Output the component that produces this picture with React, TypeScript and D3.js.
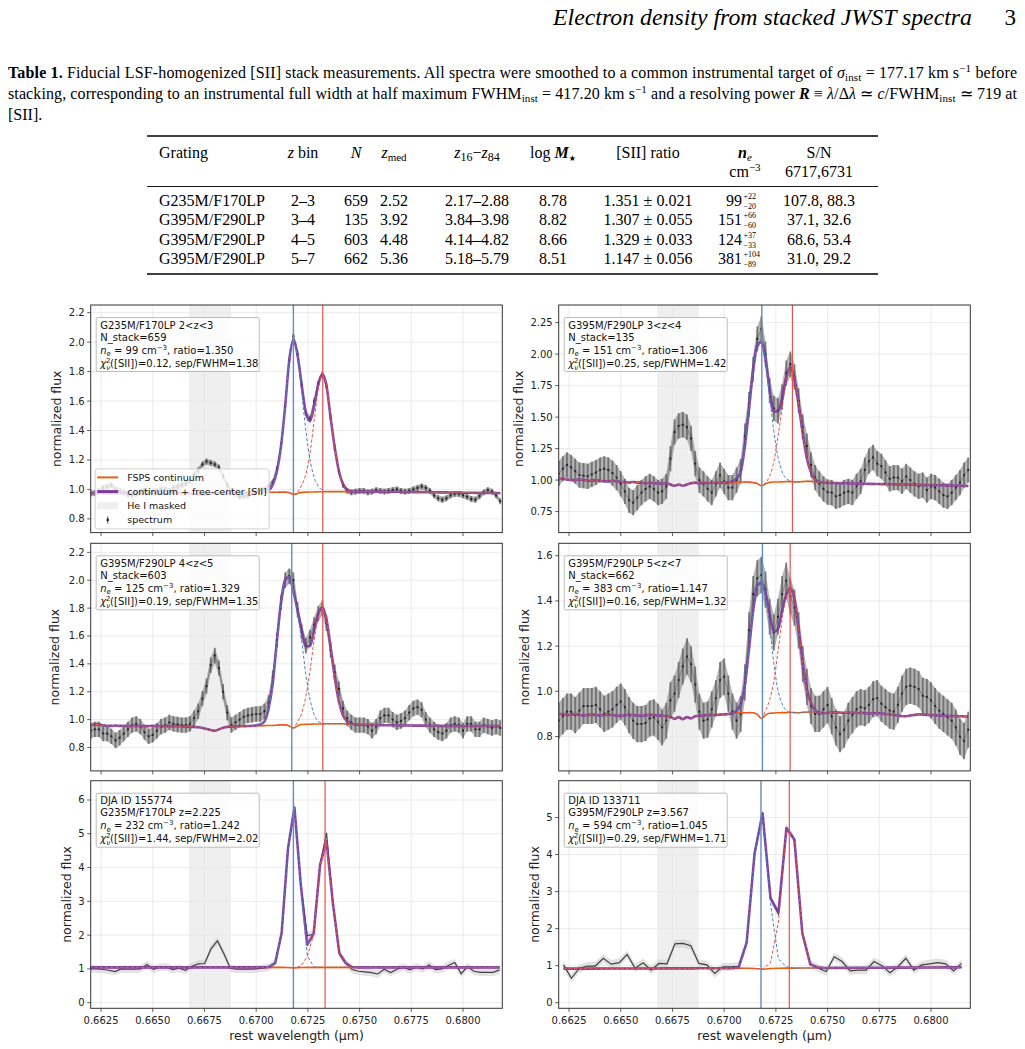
import React from "react";
import * as d3 from "d3";

const W = 1025;
const H = 1049;
const SANS = "DejaVu Sans, Verdana, sans-serif";
const SERIF = "Liberation Serif, Times New Roman, serif";

// ---------------- page text ----------------
const HEADER_TITLE = "Electron density from stacked JWST spectra";
const PAGE_NO = "3";
const LEGEND_LABELS = ["FSPS continuum", "continuum + free-center [SII]", "He I masked", "spectrum"];

// ---------------- table ----------------
const TABLE_GRATING = ["G235M/F170LP", "G395M/F290LP", "G395M/F290LP", "G395M/F290LP"];
const TABLE_ZBIN = ["2–3", "3–4", "4–5", "5–7"];
const TABLE_N = ["659", "135", "603", "662"];
const TABLE_ZMED = ["2.52", "3.92", "4.48", "5.36"];
const TABLE_ZRANGE = ["2.17–2.88", "3.84–3.98", "4.14–4.82", "5.18–5.79"];
const TABLE_LOGM = ["8.78", "8.82", "8.66", "8.51"];
const TABLE_RATIO = ["1.351 ± 0.021", "1.307 ± 0.055", "1.329 ± 0.033", "1.147 ± 0.056"];
const TABLE_NE = ["99", "151", "124", "381"];
const TABLE_NE_UP = ["+22", "+66", "+37", "+104"];
const TABLE_NE_LO = ["−20", "−60", "−33", "−89"];
const TABLE_SN = ["107.8, 88.3", "37.1, 32.6", "68.6, 53.4", "31.0, 29.2"];

// ---------------- shared axis ----------------
const X_DOMAIN = [0.662, 0.6819];
const X_TICKS = [0.6625, 0.665, 0.6675, 0.67, 0.6725, 0.675, 0.6775, 0.68];
const HEI_MASK = [0.66675, 0.66878];

// stacked spectra sampling grid (rest micron)
const STACK_START = 0.662;
const STACK_STEP = 0.0002;
const STACK_WIN = 40; // grid index where component arrays start

// ---------------- panel 1: G235M 2<z<3 ----------------
const P1_FLUX = [
  0.974, 0.975, 0.99, 1.01, 1.02, 1.03, 1.0, 0.99, 0.98, 0.965,
  0.96, 0.97, 0.98, 0.99, 0.98, 0.985, 0.99, 1.0, 1.0, 0.99,
  1.01, 1.02, 1.03, 1.04, 1.06, 1.1, 1.13, 1.17, 1.19, 1.18,
  1.17, 1.15, 1.09, 1.03, 0.99, 0.97, 0.95, 0.955, 0.96, 0.98,
  0.99, 0.995, 1.0, 1.02, 1.05, 1.14, 1.3, 1.57, 1.88, 2.04,
  1.92, 1.71, 1.52, 1.48, 1.6, 1.72, 1.78, 1.7, 1.49, 1.28,
  1.12, 1.03, 0.99, 0.98, 0.985, 0.99, 0.99, 0.98, 0.985, 0.995,
  0.99, 0.985, 0.99, 0.995, 1.0, 0.99, 0.985, 0.99, 1.0, 1.01,
  1.02, 1.01, 0.99, 0.96, 0.94, 0.93, 0.94, 0.96, 0.97, 0.97,
  0.96, 0.95, 0.935, 0.93, 0.955, 0.98, 0.995, 0.985, 0.96, 0.92,
];
const P1_CONT = [
  0.975, 0.975, 0.975, 0.975, 0.975, 0.975, 0.975, 0.975, 0.975, 0.975,
  0.975, 0.975, 0.975, 0.975, 0.975, 0.975, 0.975, 0.975, 0.975, 0.975,
  0.975, 0.975, 0.975, 0.973, 0.972, 0.97, 0.968, 0.968, 0.97, 0.972,
  0.975, 0.977, 0.978, 0.978, 0.978, 0.978, 0.978, 0.978, 0.979, 0.98,
  0.98, 0.98, 0.98, 0.98, 0.981, 0.981, 0.982, 0.982, 0.978, 0.966,
  0.972, 0.98, 0.982, 0.983, 0.983, 0.984, 0.984, 0.985, 0.985, 0.985,
  0.985, 0.985, 0.985, 0.985, 0.985, 0.985, 0.985, 0.985, 0.985, 0.985,
  0.985, 0.985, 0.984, 0.984, 0.984, 0.983, 0.983, 0.983, 0.982, 0.982,
  0.982, 0.981, 0.981, 0.981, 0.98, 0.98, 0.98, 0.979, 0.979, 0.979,
  0.978, 0.978, 0.978, 0.977, 0.977, 0.977, 0.976, 0.976, 0.975, 0.975,
];
const P1_BLUE = [0, 0, 0.005, 0.015, 0.05, 0.14, 0.31, 0.58, 0.9, 1.05, 0.93, 0.68, 0.42, 0.22, 0.1, 0.04, 0.01, 0, 0, 0, 0, 0, 0, 0, 0];
const P1_RED = [0, 0, 0, 0, 0, 0, 0, 0, 0, 0, 0.01, 0.05, 0.12, 0.26, 0.48, 0.69, 0.79, 0.72, 0.5, 0.3, 0.14, 0.05, 0.015, 0, 0];
const P1_ERR = 0.02;
const P1_YLIM = [0.707, 2.252];
const P1_YTICKS = [0.8, 1.0, 1.2, 1.4, 1.6, 1.8, 2.0, 2.2];
const P1_VLINES = [0.6718, 0.67322];
const P1_INFO = ["G235M/F170LP 2<z<3", "N_stack=659", "99", "1.350", "0.12", "1.38"];

// ---------------- panel 2: G395M 3<z<4 ----------------
const P2_FLUX = [
  1.05, 1.09, 1.12, 1.1, 1.07, 1.04, 1.035, 1.03, 1.045, 1.06,
  1.08, 1.09, 1.08, 1.055, 1.02, 0.97, 0.91, 0.84, 0.82, 0.86,
  0.9, 0.93, 0.95, 0.93, 0.9, 0.91, 0.95, 1.17, 1.38, 1.43,
  1.44, 1.42, 1.33, 1.13, 1.0, 0.97, 0.93, 0.9, 0.97, 1.04,
  0.99, 0.94, 0.94, 1.0, 1.07, 1.35, 1.6, 1.88, 2.12, 2.2,
  2.0, 1.71, 1.57, 1.55, 1.66, 1.85, 1.92, 1.82, 1.63, 1.42,
  1.27, 1.12, 1.02, 0.97, 0.93, 0.905, 0.9, 0.87, 0.88, 0.9,
  0.91, 0.9, 0.95, 0.99, 1.08, 1.15, 1.18, 1.13, 1.11, 1.06,
  1.01, 1.02, 1.02, 0.99, 1.03, 1.0, 0.97, 0.95, 0.96, 0.92,
  0.95, 0.94, 0.91, 0.88, 0.87, 0.9, 0.94, 0.98, 1.04, 1.08,
];
const P2_CONT = [
  1.01, 1.01, 1.005, 1.0, 1.0, 1.005, 1.0, 0.995, 0.995, 1.0,
  0.995, 0.99, 0.99, 0.995, 0.99, 0.985, 0.985, 0.98, 0.985, 0.98,
  0.98, 0.975, 0.98, 0.975, 0.975, 0.97, 0.975, 0.965, 0.955, 0.965,
  0.955, 0.965, 0.975, 0.98, 0.975, 0.98, 0.975, 0.98, 0.978, 0.98,
  0.98, 0.982, 0.98, 0.982, 0.985, 0.985, 0.984, 0.98, 0.972, 0.955,
  0.97, 0.982, 0.985, 0.985, 0.986, 0.988, 0.988, 0.986, 0.985, 0.988,
  0.99, 0.99, 0.985, 0.982, 0.98, 0.978, 0.977, 0.976, 0.975, 0.975,
  0.974, 0.973, 0.972, 0.972, 0.971, 0.97, 0.97, 0.969, 0.968, 0.968,
  0.967, 0.966, 0.966, 0.965, 0.964, 0.964, 0.963, 0.962, 0.962, 0.961,
  0.96, 0.96, 0.959, 0.958, 0.957, 0.956, 0.955, 0.955, 0.954, 0.953,
];
const P2_BLUE = [0, 0, 0.01, 0.03, 0.08, 0.28, 0.58, 0.9, 1.1, 1.14, 0.98, 0.68, 0.4, 0.2, 0.08, 0.025, 0.005, 0, 0, 0, 0, 0, 0, 0, 0];
const P2_RED = [0, 0, 0, 0, 0, 0, 0, 0, 0, 0, 0.01, 0.05, 0.16, 0.36, 0.58, 0.8, 0.9, 0.82, 0.62, 0.38, 0.18, 0.07, 0.02, 0.005, 0];
const P2_ERR = 0.1;
const P2_YLIM = [0.583, 2.39];
const P2_YTICKS = [0.75, 1.0, 1.25, 1.5, 1.75, 2.0, 2.25];
const P2_VLINES = [0.67182, 0.6733];
const P2_INFO = ["G395M/F290LP 3<z<4", "N_stack=135", "151", "1.306", "0.25", "1.42"];

// ---------------- panel 3: G395M 4<z<5 ----------------
const P3_FLUX = [
  0.92, 0.93, 0.93, 0.9, 0.9, 0.88, 0.85, 0.87, 0.9, 0.93,
  0.96, 0.97, 0.95, 0.91, 0.88, 0.89, 0.92, 0.95, 0.96, 0.98,
  0.97, 0.965, 0.96, 0.96, 0.97, 1.01, 1.06, 1.15, 1.24, 1.39,
  1.46, 1.37, 1.2, 1.05, 0.96, 0.98, 1.0, 1.02, 1.03, 1.035,
  1.04, 1.04, 1.06, 1.12, 1.3, 1.57, 1.84, 2.0, 2.03, 2.0,
  1.79, 1.63, 1.53, 1.59, 1.68, 1.76, 1.8, 1.69, 1.5, 1.34,
  1.22, 1.08, 1.01, 0.98, 0.96, 0.96, 0.96, 0.95, 0.92, 0.95,
  1.01, 1.03, 1.03, 1.0, 0.98, 0.99, 1.01, 1.05, 1.08, 1.09,
  1.07, 1.0, 0.96, 0.93, 0.91, 0.9, 0.92, 0.96, 0.97, 0.96,
  0.92, 0.97, 0.97, 0.93, 0.93, 0.96, 0.95, 0.94, 0.95, 0.94,
];
const P3_CONT = [
  0.96, 0.965, 0.965, 0.96, 0.955, 0.955, 0.958, 0.955, 0.955, 0.953,
  0.955, 0.955, 0.953, 0.952, 0.953, 0.955, 0.955, 0.953, 0.952, 0.953,
  0.953, 0.953, 0.952, 0.951, 0.95, 0.948, 0.945, 0.94, 0.932, 0.925,
  0.92, 0.93, 0.942, 0.948, 0.95, 0.952, 0.952, 0.953, 0.954, 0.955,
  0.955, 0.956, 0.957, 0.958, 0.958, 0.96, 0.962, 0.962, 0.955, 0.94,
  0.955, 0.965, 0.966, 0.967, 0.968, 0.968, 0.969, 0.97, 0.97, 0.97,
  0.97, 0.97, 0.968, 0.966, 0.965, 0.964, 0.963, 0.962, 0.962, 0.961,
  0.96, 0.96, 0.96, 0.96, 0.959, 0.958, 0.958, 0.958, 0.957, 0.957,
  0.957, 0.956, 0.956, 0.956, 0.955, 0.955, 0.955, 0.955, 0.955, 0.954,
  0.954, 0.955, 0.955, 0.954, 0.954, 0.955, 0.955, 0.954, 0.954, 0.953,
];
const P3_BLUE = [0.005, 0.01, 0.03, 0.12, 0.3, 0.6, 0.88, 1.04, 1.07, 0.98, 0.8, 0.6, 0.36, 0.18, 0.07, 0.02, 0.005, 0, 0, 0, 0, 0, 0, 0, 0];
const P3_RED = [0, 0, 0, 0, 0, 0, 0, 0, 0, 0, 0.03, 0.08, 0.2, 0.38, 0.6, 0.77, 0.83, 0.75, 0.55, 0.33, 0.16, 0.06, 0.02, 0.005, 0];
const P3_ERR = 0.055;
const P3_YLIM = [0.632, 2.265];
const P3_YTICKS = [0.8, 1.0, 1.2, 1.4, 1.6, 1.8, 2.0, 2.2];
const P3_VLINES = [0.67172, 0.67322];
const P3_INFO = ["G395M/F290LP 4<z<5", "N_stack=603", "125", "1.329", "0.19", "1.35"];

// ---------------- panel 4: G395M 5<z<7 ----------------
const P4_FLUX = [
  0.87, 0.89, 0.91, 0.91, 0.895, 0.915, 0.935, 0.935, 0.935, 0.94,
  0.92, 0.9, 0.91, 0.92, 0.94, 0.955, 0.93, 0.895, 0.87, 0.855,
  0.855, 0.86, 0.88, 0.885, 0.865, 0.84, 0.87, 0.96, 0.99, 1.05,
  1.11, 1.155, 1.12, 1.03, 0.91, 0.87, 0.875, 0.92, 0.97, 1.05,
  1.065, 0.99, 0.91, 0.87, 0.9, 1.04, 1.27, 1.43, 1.5, 1.515,
  1.45, 1.33, 1.26, 1.33, 1.43, 1.49, 1.42, 1.37, 1.27, 1.12,
  1.02, 0.935, 0.9, 0.9, 0.92, 0.94, 0.89, 0.84, 0.81, 0.83,
  0.87, 0.895, 0.92, 0.93, 0.925, 0.94, 0.965, 0.97, 0.945, 0.93,
  0.915, 0.91, 0.94, 0.99, 1.02, 1.025, 1.02, 1.01, 0.98, 0.975,
  0.96, 0.935, 0.915, 0.9, 0.885, 0.87, 0.84, 0.8, 0.78, 0.83,
];
const P4_CONT = [
  0.9, 0.9, 0.895, 0.897, 0.9, 0.895, 0.893, 0.895, 0.897, 0.895,
  0.893, 0.895, 0.897, 0.895, 0.893, 0.892, 0.894, 0.896, 0.895, 0.893,
  0.892, 0.894, 0.896, 0.895, 0.893, 0.892, 0.89, 0.888, 0.878, 0.886,
  0.877, 0.886, 0.88, 0.89, 0.892, 0.893, 0.895, 0.895, 0.896, 0.897,
  0.898, 0.9, 0.902, 0.904, 0.905, 0.905, 0.906, 0.905, 0.898, 0.88,
  0.895, 0.903, 0.904, 0.905, 0.906, 0.906, 0.907, 0.906, 0.905, 0.907,
  0.908, 0.909, 0.908, 0.905, 0.903, 0.904, 0.906, 0.907, 0.906, 0.905,
  0.906, 0.905, 0.904, 0.905, 0.903, 0.902, 0.903, 0.904, 0.902, 0.9,
  0.898, 0.896, 0.893, 0.89, 0.89, 0.893, 0.896, 0.898, 0.897, 0.896,
  0.895, 0.894, 0.893, 0.892, 0.892, 0.891, 0.89, 0.89, 0.889, 0.889,
];
const P4_BLUE = [0, 0, 0, 0.01, 0.04, 0.12, 0.28, 0.45, 0.57, 0.6, 0.52, 0.38, 0.22, 0.1, 0.04, 0.01, 0, 0, 0, 0, 0, 0, 0, 0, 0];
const P4_RED = [0, 0, 0, 0, 0, 0, 0, 0, 0, 0, 0.02, 0.06, 0.14, 0.27, 0.41, 0.51, 0.55, 0.5, 0.37, 0.22, 0.1, 0.04, 0.01, 0, 0];
const P4_ERR = 0.08;
const P4_YLIM = [0.648, 1.655];
const P4_YTICKS = [0.8, 1.0, 1.2, 1.4, 1.6];
const P4_VLINES = [0.67185, 0.67319];
const P4_INFO = ["G395M/F290LP 5<z<7", "N_stack=662", "383", "1.147", "0.16", "1.32"];

// ---------------- panel 5: DJA 155774 ----------------
const P5_START = 0.66193;
const P5_STEP = 0.00031;
const P5_WIN = 28;
const P5_FLUX = [
  1.0, 1.0, 0.99, 0.96, 0.92, 1.0, 0.99, 0.99, 1.0, 1.13,
  0.99, 1.05, 1.06, 0.98, 1.02, 0.96, 1.08, 1.15, 1.16, 1.6,
  1.83, 1.45, 1.02, 0.99, 0.99, 0.99, 1.0, 1.02, 1.05, 1.17,
  2.05, 4.57, 5.78, 3.48, 1.98, 2.03, 4.08, 5.03, 2.94, 1.46,
  1.17, 0.98, 0.93, 0.91, 0.89, 0.85, 0.99, 0.89, 0.99, 1.05,
  0.97, 1.06, 1.0, 1.12, 0.98, 1.0, 1.1, 1.19, 0.86, 1.07,
  0.93, 0.9, 0.9, 0.9, 0.97,
];
const P5_CONT = [
  1.045, 1.045, 1.045, 1.045, 1.045, 1.045, 1.045, 1.045, 1.045, 1.045,
  1.045, 1.045, 1.045, 1.045, 1.045, 1.045, 1.045, 1.045, 1.045, 1.045,
  1.045, 1.045, 1.045, 1.045, 1.045, 1.045, 1.045, 1.045, 1.045, 1.045,
  1.045, 1.04, 1.03, 1.04, 1.045, 1.045, 1.045, 1.045, 1.045, 1.045,
  1.045, 1.045, 1.045, 1.045, 1.045, 1.045, 1.045, 1.045, 1.045, 1.045,
  1.045, 1.045, 1.045, 1.045, 1.045, 1.045, 1.045, 1.045, 1.045, 1.045,
  1.045, 1.045, 1.045, 1.045, 1.045,
];
const P5_BLUE = [0.01, 0.13, 1.01, 3.53, 4.74, 2.4, 0.35, 0.02, 0, 0, 0, 0, 0, 0];
const P5_RED = [0, 0, 0, 0, 0.005, 0.04, 0.32, 0.97, 3.04, 3.73, 1.9, 0.42, 0.13, 0.01];
const P5_ERR = 0.11;
const P5_YLIM = [-0.166, 6.571];
const P5_YTICKS = [0, 1, 2, 3, 4, 5, 6];
const P5_VLINES = [0.6718, 0.67333];
const P5_INFO = ["DJA ID 155774", "G235M/F170LP z=2.225", "232", "1.242", "1.44", "2.02"];

// ---------------- panel 6: DJA 133711 ----------------
const P6_START = 0.66223;
const P6_STEP = 0.000385;
const P6_WIN = 21;
const P6_FLUX = [
  1.02, 0.66, 0.93, 0.99, 0.99, 1.2, 1.04, 1.08, 1.3, 0.93,
  1.08, 0.88, 1.06, 1.05, 1.59, 1.6, 1.54, 1.06, 1.02, 0.79,
  0.97, 0.97, 0.98, 1.62, 4.04, 5.12, 2.82, 2.4, 4.71, 4.4,
  1.87, 1.04, 0.93, 0.84, 1.24, 1.11, 0.86, 0.88, 0.88, 1.11,
  1.0, 0.81, 0.97, 1.2, 0.88, 1.02, 1.05, 1.08, 1.05, 0.86,
  1.06,
];
const P6_CONT = [
  0.92, 0.92, 0.92, 0.921, 0.921, 0.922, 0.922, 0.923, 0.923, 0.924,
  0.924, 0.925, 0.925, 0.926, 0.926, 0.927, 0.927, 0.928, 0.928, 0.929,
  0.929, 0.93, 0.93, 0.93, 0.925, 0.905, 0.925, 0.932, 0.933, 0.934,
  0.935, 0.936, 0.937, 0.938, 0.939, 0.94, 0.941, 0.942, 0.943, 0.944,
  0.945, 0.946, 0.947, 0.948, 0.949, 0.95, 0.951, 0.952, 0.953, 0.954,
  0.955,
];
const P6_BLUE = [0, 0.02, 0.69, 3.1, 4.2, 1.75, 0.25, 0.03, 0, 0, 0, 0, 0];
const P6_RED = [0, 0, 0, 0, 0.01, 0.15, 1.25, 3.75, 3.47, 0.94, 0.1, 0.01, 0];
const P6_ERR = 0.11;
const P6_YLIM = [-0.151, 5.992];
const P6_YTICKS = [0, 1, 2, 3, 4, 5];
const P6_VLINES = [0.67178, 0.67315];
const P6_INFO = ["DJA ID 133711", "G395M/F290LP z=3.567", "594", "1.045", "0.29", "1.71"];

// ---------------- layout ----------------
const COL_X = [90.7, 558.7];
const ROW_Y = [305, 543.3, 780.7];
const AX_W = 411.6;
const AX_H = 227.6;
const YLABEL_X = [56.7, 518.3, 55, 525, 66.7, 535];

const PANELS = [
  { stack: true, start: STACK_START, step: STACK_STEP, win: STACK_WIN, flux: P1_FLUX, cont: P1_CONT, blue: P1_BLUE, red: P1_RED, err: P1_ERR, ylim: P1_YLIM, yticks: P1_YTICKS, yfmt: ".1f", vlines: P1_VLINES, info: P1_INFO, legend: true },
  { stack: true, start: STACK_START, step: STACK_STEP, win: STACK_WIN, flux: P2_FLUX, cont: P2_CONT, blue: P2_BLUE, red: P2_RED, err: P2_ERR, ylim: P2_YLIM, yticks: P2_YTICKS, yfmt: ".2f", vlines: P2_VLINES, info: P2_INFO },
  { stack: true, start: STACK_START, step: STACK_STEP, win: STACK_WIN, flux: P3_FLUX, cont: P3_CONT, blue: P3_BLUE, red: P3_RED, err: P3_ERR, ylim: P3_YLIM, yticks: P3_YTICKS, yfmt: ".1f", vlines: P3_VLINES, info: P3_INFO },
  { stack: true, start: STACK_START, step: STACK_STEP, win: STACK_WIN, flux: P4_FLUX, cont: P4_CONT, blue: P4_BLUE, red: P4_RED, err: P4_ERR, ylim: P4_YLIM, yticks: P4_YTICKS, yfmt: ".1f", vlines: P4_VLINES, info: P4_INFO },
  { stack: false, start: P5_START, step: P5_STEP, win: P5_WIN, flux: P5_FLUX, cont: P5_CONT, blue: P5_BLUE, red: P5_RED, err: P5_ERR, ylim: P5_YLIM, yticks: P5_YTICKS, yfmt: "d", vlines: P5_VLINES, info: P5_INFO },
  { stack: false, start: P6_START, step: P6_STEP, win: P6_WIN, flux: P6_FLUX, cont: P6_CONT, blue: P6_BLUE, red: P6_RED, err: P6_ERR, ylim: P6_YLIM, yticks: P6_YTICKS, yfmt: "d", vlines: P6_VLINES, info: P6_INFO },
];

const C_ORANGE = "#e5610f";
const C_PURPLE = "#7b3a9e";
const C_BLUE = "#4f82c0";
const C_RED = "#ee5149";
const C_VBLUE = "#5f8cc6";
const C_VRED = "#e8534b";

function InfoBox({ x, y, info }: any) {
  const [l1, l2, ne, ratio, chi, sep] = info;
  const fs = 10;
  return (
    <g fontFamily={SANS} fontSize={fs} fill="#111">
      <rect x={x} y={y} width={163} height={54} fill="#fff" fillOpacity={0.8} stroke="#b5b5b5" strokeWidth={0.9} rx={1.5} />
      <text x={x + 4} y={y + 11}>{l1}</text>
      <text x={x + 4} y={y + 23}>{l2}</text>
      <text x={x + 4} y={y + 36}>
        <tspan fontStyle="italic">n</tspan>
        <tspan fontSize={7} dy={2.5}>e</tspan>
        <tspan dy={-2.5}>{` = ${ne} cm`}</tspan>
        <tspan fontSize={7} dy={-4}>−3</tspan>
        <tspan dy={4}>{`, ratio=${ratio}`}</tspan>
      </text>
      <text x={x + 4} y={y + 49}>
        <tspan fontStyle="italic">χ</tspan>
        <tspan fontSize={7} dy={-4}>2</tspan>
        <tspan fontSize={7} fontStyle="italic" dx={-4.4} dy={7}>ν</tspan>
        <tspan dy={-3}>{`([SII])=${chi}, sep/FWHM=${sep}`}</tspan>
      </text>
    </g>
  );
}

function Legend({ x, y }: any) {
  const rows = [8.5, 22.7, 36.7, 51];
  const hx0 = x + 2, hx1 = x + 23, tx = x + 32;
  return (
    <g fontFamily={SANS} fontSize={9.5} fill="#111">
      <rect x={x} y={y} width={174} height={60} fill="#fff" fillOpacity={0.8} stroke="#cccccc" strokeWidth={0.9} rx={2} />
      <line x1={hx0} x2={hx1} y1={y + rows[0]} y2={y + rows[0]} stroke={C_ORANGE} strokeWidth={2} />
      <line x1={hx0} x2={hx1} y1={y + rows[1]} y2={y + rows[1]} stroke={C_PURPLE} strokeWidth={3} />
      <rect x={hx0} y={y + rows[2] - 3.5} width={hx1 - hx0} height={7} fill="#efefef" />
      <line x1={(hx0 + hx1) / 2} x2={(hx0 + hx1) / 2} y1={y + rows[3] - 3.5} y2={y + rows[3] + 3.5} stroke="#666" strokeWidth={1.2} />
      <circle cx={(hx0 + hx1) / 2} cy={y + rows[3]} r={1.3} fill="#222" />
      {LEGEND_LABELS.map((t, i) => (
        <text key={i} x={tx} y={y + rows[i] + 3.4}>{t}</text>
      ))}
    </g>
  );
}

function Panel({ cfg, idx }: any) {
  const col = idx % 2;
  const row = Math.floor(idx / 2);
  const x0 = COL_X[col];
  const y0 = ROW_Y[row];
  const x = d3.scaleLinear().domain(X_DOMAIN).range([x0, x0 + AX_W]);
  const y = d3.scaleLinear().domain(cfg.ylim).range([y0 + AX_H, y0]);
  const waves = cfg.flux.map((_: number, i: number) => cfg.start + i * cfg.step);
  const comp = (arr: number[]) =>
    cfg.flux.map((_: number, i: number) => {
      const k = i - cfg.win;
      return k >= 0 && k < arr.length ? arr[k] : 0;
    });
  const b = comp(cfg.blue);
  const r = comp(cfg.red);
  const total = cfg.cont.map((c: number, i: number) => c + b[i] + r[i]);
  const blueLine = cfg.cont.map((c: number, i: number) => c + b[i]);
  const redLine = cfg.cont.map((c: number, i: number) => c + r[i]);
  const curve = cfg.stack ? d3.curveMonotoneX : d3.curveLinear;
  const lineGen = d3
    .line<number>()
    .x((_, i) => x(waves[i]))
    .y((v) => y(v))
    .curve(curve);
  const specLine = d3
    .line<number>()
    .x((_, i) => x(waves[i]))
    .y((v) => y(v))
    .curve(d3.curveLinear);
  const areaGen = d3
    .area<number>()
    .x((_, i) => x(waves[i]))
    .y0((v) => y(v - cfg.err))
    .y1((v) => y(v + cfg.err))
    .curve(d3.curveLinear);
  const clipId = `clip-${idx}`;
  const fmt = d3.format(cfg.yfmt);
  const xfmt = d3.format(".4f");
  const showX = row === 2;

  return (
    <g>
      <defs>
        <clipPath id={clipId}>
          <rect x={x0} y={y0} width={AX_W} height={AX_H} />
        </clipPath>
      </defs>
      <rect x={x0} y={y0} width={AX_W} height={AX_H} fill="#fff" />
      <g clipPath={`url(#${clipId})`}>
        <rect x={x(HEI_MASK[0])} y={y0} width={x(HEI_MASK[1]) - x(HEI_MASK[0])} height={AX_H} fill="#efefef" />
        {X_TICKS.map((t) => (
          <line key={"gx" + t} x1={x(t)} x2={x(t)} y1={y0} y2={y0 + AX_H} stroke="#e6e6e6" strokeWidth={0.8} />
        ))}
        {cfg.yticks.map((t: number) => (
          <line key={"gy" + t} x1={x0} x2={x0 + AX_W} y1={y(t)} y2={y(t)} stroke="#e6e6e6" strokeWidth={0.8} />
        ))}
        {cfg.stack ? (
          <g>
            <path d={areaGen(cfg.flux) || ""} fill="#8c8c8c" fillOpacity={0.65} />
            {cfg.flux.map((f: number, i: number) => (
              <line key={"e" + i} x1={x(waves[i])} x2={x(waves[i])} y1={y(f - cfg.err)} y2={y(f + cfg.err)} stroke="#555" strokeOpacity={0.7} strokeWidth={1.8} />
            ))}
            <path d={specLine(cfg.flux) || ""} fill="none" stroke="#333" strokeWidth={0.6} strokeOpacity={0.6} />
            {cfg.flux.map((f: number, i: number) => (
              <circle key={"d" + i} cx={x(waves[i])} cy={y(f)} r={1.15} fill="#262626" />
            ))}
          </g>
        ) : (
          <g>
            <path d={areaGen(cfg.flux) || ""} fill="#cfcfcf" fillOpacity={0.6} />
            <path d={specLine(cfg.flux) || ""} fill="none" stroke="#404040" strokeWidth={1.2} />
          </g>
        )}
        <path d={lineGen(cfg.cont) || ""} fill="none" stroke={C_ORANGE} strokeWidth={1.6} />
        <path d={lineGen(total) || ""} fill="none" stroke={C_PURPLE} strokeWidth={2.6} strokeOpacity={0.9} strokeLinejoin="round" />
        <path d={lineGen(blueLine) || ""} fill="none" stroke={C_BLUE} strokeWidth={1} strokeDasharray="3.2,2" />
        <path d={lineGen(redLine) || ""} fill="none" stroke={C_RED} strokeWidth={1} strokeDasharray="3.2,2" />
        <line x1={x(cfg.vlines[0])} x2={x(cfg.vlines[0])} y1={y0} y2={y0 + AX_H} stroke={C_VBLUE} strokeWidth={1.4} />
        <line x1={x(cfg.vlines[1])} x2={x(cfg.vlines[1])} y1={y0} y2={y0 + AX_H} stroke={C_VRED} strokeWidth={1.2} />
      </g>
      <rect x={x0} y={y0} width={AX_W} height={AX_H} fill="none" stroke="#333" strokeWidth={1} />
      {X_TICKS.map((t) => (
        <g key={"tx" + t}>
          <line x1={x(t)} x2={x(t)} y1={y0 + AX_H} y2={y0 + AX_H + 3.5} stroke="#333" strokeWidth={0.8} />
          {showX && (
            <text x={x(t)} y={y0 + AX_H + 15.5} textAnchor="middle" fontFamily={SANS} fontSize={10} fill="#222">
              {xfmt(t)}
            </text>
          )}
        </g>
      ))}
      {cfg.yticks.map((t: number) => (
        <g key={"ty" + t}>
          <line x1={x0 - 3.5} x2={x0} y1={y(t)} y2={y(t)} stroke="#333" strokeWidth={0.8} />
          <text x={x0 - 6} y={y(t)} dy="0.35em" textAnchor="end" fontFamily={SANS} fontSize={10} fill="#222">
            {fmt(t)}
          </text>
        </g>
      ))}
      <text
        transform={`translate(${YLABEL_X[idx]},${y0 + AX_H / 2}) rotate(-90)`}
        textAnchor="middle"
        dy="0.35em"
        fontFamily={SANS}
        fontSize={12.5}
        fill="#222"
      >
        normalized flux
      </text>
      {showX && (
        <text x={x0 + AX_W / 2} y={y0 + AX_H + 31.5} textAnchor="middle" fontFamily={SANS} fontSize={12.5} fill="#222">
          rest wavelength (μm)
        </text>
      )}
      <InfoBox x={x0 + 5.5} y={y0 + 12.5} info={cfg.info} />
      {cfg.legend && <Legend x={x0 + 4.5} y={y0 + AX_H - 63.7} />}
    </g>
  );
}

function PageHeader() {
  return (
    <g fontFamily={SERIF} fill="#000">
      <text x={553} y={25} fontStyle="italic" fontSize={23} textLength={419} lengthAdjust="spacingAndGlyphs">
        {HEADER_TITLE}
      </text>
      <text x={1016} y={25} textAnchor="end" fontSize={23}>
        {PAGE_NO}
      </text>
    </g>
  );
}

function Caption() {
  const fs = 16;
  const ss = 11;
  return (
    <g fontFamily={SERIF} fontSize={fs} fill="#000">
      <text x={8} y={78} textLength={1009} lengthAdjust="spacing">
        <tspan fontWeight="bold">Table 1.</tspan>
        <tspan> Fiducial LSF-homogenized [SII] stack measurements. All spectra were smoothed to a common instrumental target of </tspan>
        <tspan fontStyle="italic">σ</tspan>
        <tspan fontSize={ss} dy={3}>inst</tspan>
        <tspan dy={-3}> = 177.17 km s</tspan>
        <tspan fontSize={ss} dy={-6}>−1</tspan>
        <tspan dy={6}> before</tspan>
      </text>
      <text x={8} y={99} textLength={1009} lengthAdjust="spacing">
        <tspan>stacking, corresponding to an instrumental full width at half maximum FWHM</tspan>
        <tspan fontSize={ss} dy={3}>inst</tspan>
        <tspan dy={-3}> = 417.20 km s</tspan>
        <tspan fontSize={ss} dy={-6}>−1</tspan>
        <tspan dy={6}> and a resolving power </tspan>
        <tspan fontStyle="italic" fontWeight="bold">R</tspan>
        <tspan> ≡ </tspan>
        <tspan fontStyle="italic">λ</tspan>
        <tspan>/Δ</tspan>
        <tspan fontStyle="italic">λ</tspan>
        <tspan> ≃ </tspan>
        <tspan fontStyle="italic">c</tspan>
        <tspan>/FWHM</tspan>
        <tspan fontSize={ss} dy={3}>inst</tspan>
        <tspan dy={-3}> ≃ 719 at</tspan>
      </text>
      <text x={8} y={119.5}>[SII].</text>
    </g>
  );
}

function Table() {
  const fs = 16;
  const ss = 11;
  const rowsY = [205.5, 225, 244.5, 264];
  const hy1 = 157.5;
  const hy2 = 177;
  const cx = { zbin: 303, n: 356, zmed: 394, zr: 477, logm: 553, ratio: 648, ne: 742, sn: 819 };
  return (
    <g fontFamily={SERIF} fontSize={fs} fill="#000">
      <line x1={147} x2={878} y1={136} y2={136} stroke="#000" strokeWidth={1.4} />
      <line x1={147} x2={878} y1={186.5} y2={186.5} stroke="#000" strokeWidth={0.9} />
      <line x1={147} x2={878} y1={274} y2={274} stroke="#000" strokeWidth={1.4} />
      <text x={159} y={hy1}>Grating</text>
      <text x={cx.zbin} y={hy1} textAnchor="middle">
        <tspan fontStyle="italic">z</tspan>
        <tspan> bin</tspan>
      </text>
      <text x={cx.n} y={hy1} textAnchor="middle" fontStyle="italic">N</text>
      <text x={cx.zmed} y={hy1} textAnchor="middle">
        <tspan fontStyle="italic">z</tspan>
        <tspan fontSize={ss} dy={3}>med</tspan>
      </text>
      <text x={cx.zr} y={hy1} textAnchor="middle">
        <tspan fontStyle="italic">z</tspan>
        <tspan fontSize={12} dy={3}>16</tspan>
        <tspan dy={-3}>−</tspan>
        <tspan fontStyle="italic">z</tspan>
        <tspan fontSize={12} dy={3}>84</tspan>
      </text>
      <text x={cx.logm} y={hy1} textAnchor="middle">
        <tspan>log </tspan>
        <tspan fontStyle="italic" fontWeight="bold">M</tspan>
        <tspan fontSize={8} dy={3} fontFamily={SANS}>★</tspan>
      </text>
      <text x={cx.ratio} y={hy1} textAnchor="middle">[SII] ratio</text>
      <text x={cx.ne + 3} y={hy1} textAnchor="middle">
        <tspan fontStyle="italic" fontWeight="bold">n</tspan>
        <tspan fontSize={ss} fontStyle="italic" dy={3}>e</tspan>
      </text>
      <text x={cx.ne + 3} y={hy2} textAnchor="middle">
        <tspan>cm</tspan>
        <tspan fontSize={ss} dy={-6}>−3</tspan>
      </text>
      <text x={cx.sn} y={hy1} textAnchor="middle">S/N</text>
      <text x={cx.sn} y={hy2} textAnchor="middle">6717,6731</text>
      {rowsY.map((ry, i) => (
        <g key={i}>
          <text x={159} y={ry}>{TABLE_GRATING[i]}</text>
          <text x={cx.zbin} y={ry} textAnchor="middle">{TABLE_ZBIN[i]}</text>
          <text x={cx.n} y={ry} textAnchor="middle">{TABLE_N[i]}</text>
          <text x={cx.zmed} y={ry} textAnchor="middle">{TABLE_ZMED[i]}</text>
          <text x={cx.zr} y={ry} textAnchor="middle">{TABLE_ZRANGE[i]}</text>
          <text x={cx.logm} y={ry} textAnchor="middle">{TABLE_LOGM[i]}</text>
          <text x={cx.ratio} y={ry} textAnchor="middle">{TABLE_RATIO[i]}</text>
          <text x={cx.ne} y={ry} textAnchor="end">{TABLE_NE[i]}</text>
          <text x={cx.ne + 1.5} y={ry - 7} fontSize={8}>{TABLE_NE_UP[i]}</text>
          <text x={cx.ne + 1.5} y={ry + 3} fontSize={8}>{TABLE_NE_LO[i]}</text>
          <text x={cx.sn} y={ry} textAnchor="middle">{TABLE_SN[i]}</text>
        </g>
      ))}
    </g>
  );
}

export default function App() {
  return (
    <svg
      width={W}
      height={H}
      viewBox={`0 0 ${W} ${H}`}
      style={{ position: "absolute", left: 0, top: 0, background: "#fff" }}
      xmlns="http://www.w3.org/2000/svg"
    >
      <rect width={W} height={H} fill="#fff" />
      <PageHeader />
      <Caption />
      <Table />
      {PANELS.map((p, i) => (
        <Panel key={i} cfg={p} idx={i} />
      ))}
    </svg>
  );
}
